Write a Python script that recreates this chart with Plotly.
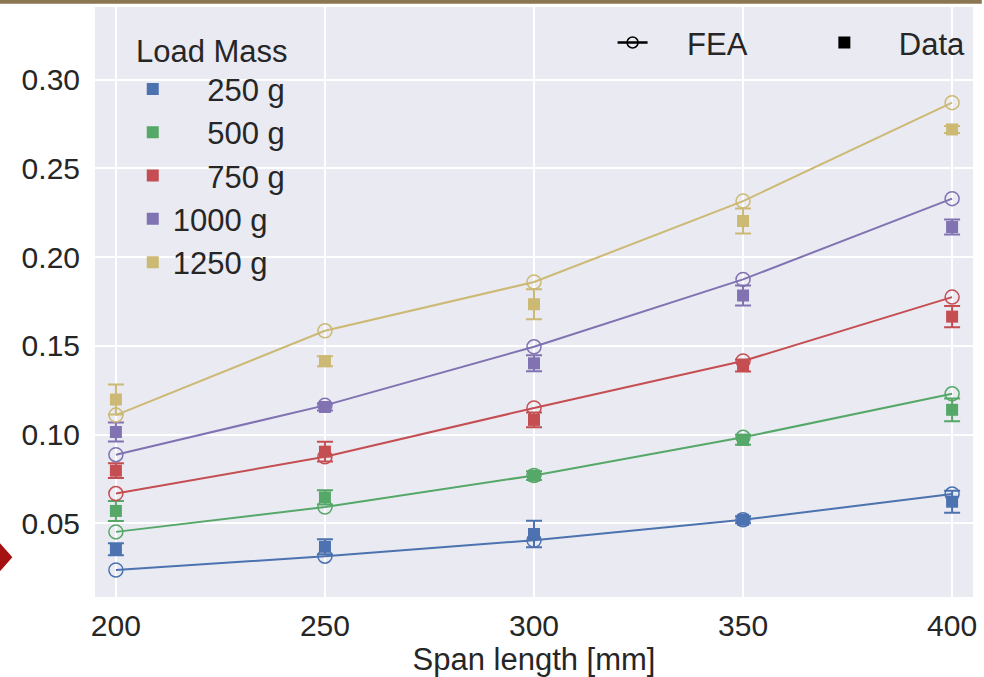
import plotly.graph_objects as go

span = [200, 250, 300, 350, 400]
masses = ["250 g", "500 g", "750 g", "1000 g", "1250 g"]
mass_labels = ["\u2007\u2007250 g", "\u2007\u2007500 g", "\u2007\u2007750 g", "1000 g", "1250 g"]
colors = ["#4C72B0", "#55A868", "#C44E52", "#8172B2", "#CCB974"]

fea_250 = [0.0237, 0.0315, 0.0405, 0.0520, 0.0665]
fea_500 = [0.0452, 0.0592, 0.0770, 0.0985, 0.1230]
fea_750 = [0.0668, 0.0875, 0.1150, 0.1415, 0.1775]
fea_1000 = [0.0887, 0.1165, 0.1495, 0.1875, 0.2330]
fea_1250 = [0.1110, 0.1585, 0.1860, 0.2316, 0.2871]

data_250 = [0.0354, 0.0368, 0.0440, 0.0520, 0.0622]
data_500 = [0.0570, 0.0646, 0.0769, 0.0971, 0.1140]
data_750 = [0.0797, 0.0904, 0.1083, 0.1390, 0.1665]
data_1000 = [0.1015, 0.1156, 0.1402, 0.1784, 0.2170]
data_1250 = [0.1198, 0.1414, 0.1735, 0.2204, 0.2720]

err_250 = [0.0034, 0.0042, 0.0075, 0.0020, 0.0062]
err_500 = [0.0056, 0.0040, 0.0025, 0.0028, 0.0064]
err_750 = [0.0042, 0.0056, 0.0042, 0.0034, 0.0060]
err_1000 = [0.0053, 0.0020, 0.0045, 0.0056, 0.0042]
err_1250 = [0.0084, 0.0028, 0.0085, 0.0070, 0.0020]

fea = [fea_250, fea_500, fea_750, fea_1000, fea_1250]
data = [data_250, data_500, data_750, data_1000, data_1250]
errs = [err_250, err_500, err_750, err_1000, err_1250]

FONT = "Liberation Sans, Arial, sans-serif"
TXT = "#262626"

fig = go.Figure()

for i in range(5):
    fig.add_trace(go.Scatter(
        x=span, y=data[i], mode="markers", name=mass_labels[i],
        marker=dict(symbol="square", size=12, color=colors[i]),
        error_y=dict(type="data", array=errs[i], visible=True,
                     color=colors[i], thickness=2, width=8),
        legend="legend", showlegend=True,
    ))
for i in range(5):
    fig.add_trace(go.Scatter(
        x=span, y=fea[i], mode="lines+markers", name="FEA " + masses[i],
        line=dict(color=colors[i], width=2),
        marker=dict(symbol="circle-open", size=14, color=colors[i],
                    line=dict(width=1.5, color=colors[i])),
        showlegend=False,
    ))

# style legend entries
fig.add_trace(go.Scatter(
    x=[None], y=[None], mode="lines+markers", name="\u2007\u2007FEA",
    line=dict(color="black", width=2.5),
    marker=dict(symbol="circle-open", size=11, color="black",
                line=dict(width=1.5, color="black")),
    legend="legend2", showlegend=True,
))
fig.add_trace(go.Scatter(
    x=[None], y=[None], mode="markers", name="\u2007\u2007Data",
    marker=dict(symbol="square", size=12, color="black"),
    error_y=dict(type="data", array=[0.005], visible=True,
                 color="black", thickness=2, width=6),
    legend="legend3", showlegend=True,
))

fig.update_layout(
    width=984, height=677,
    margin=dict(l=95, r=7, t=7, b=77),
    paper_bgcolor="white",
    plot_bgcolor="#EAEAF2",
    font=dict(family=FONT, size=30, color=TXT),
    xaxis=dict(
        range=[195, 405], tickvals=span, ticktext=[str(s) for s in span],
        showgrid=True, gridcolor="white", gridwidth=2, zeroline=False,
        ticks="", showline=False, ticklabelstandoff=8,
        title=dict(text="Span length [mm]", standoff=6,
                   font=dict(size=31, color=TXT)),
        tickfont=dict(size=30, color=TXT),
    ),
    yaxis=dict(
        range=[0.0085, 0.341],
        tickvals=[0.05, 0.10, 0.15, 0.20, 0.25, 0.30],
        tickformat=".2f", ticklabelstandoff=14,
        showgrid=True, gridcolor="white", gridwidth=2, zeroline=False,
        ticks="", showline=False,
        tickfont=dict(size=30, color=TXT),
    ),
    legend=dict(
        x=0.043, y=0.9746, xanchor="left", yanchor="top",
        bgcolor="rgba(0,0,0,0)",
        title=dict(text="Load Mass", side="top center",
                   font=dict(size=31, color=TXT)),
        font=dict(size=31, color=TXT),
        itemsizing="constant",
        tracegroupgap=0,
    ),
    legend2=dict(
        x=0.5895, y=0.985, xanchor="left", yanchor="top",
        bgcolor="rgba(0,0,0,0)",
        font=dict(size=31, color=TXT),
    ),
    legend3=dict(
        x=0.8307, y=0.985, xanchor="left", yanchor="top",
        bgcolor="rgba(0,0,0,0)",
        font=dict(size=31, color=TXT),
    ),
    showlegend=True,
    shapes=[
        dict(type="rect", xref="paper", yref="paper",
             x0=-0.11, x1=1.01, y0=1.0055, y1=1.02,
             fillcolor="#8a7650", line=dict(width=0), layer="above"),
        dict(type="path", xref="paper", yref="paper",
             path="M -0.1292 0.0675 L -0.1111 0.0961 L -0.0941 0.0675 L -0.1111 0.0388 Z",
             fillcolor="#A51010", line=dict(width=0), layer="above"),
    ],
)

fig.write_html("out.html")
